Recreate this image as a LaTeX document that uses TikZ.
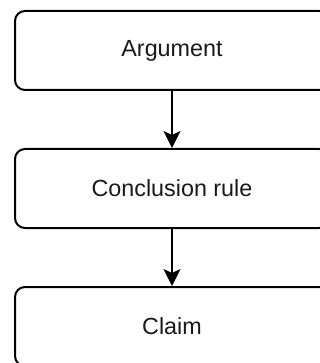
\documentclass[tikz,border=0pt]{standalone}
\usepackage{fontspec}
\setmainfont{Liberation Sans}
\usetikzlibrary{arrows.meta}
\begin{document}
\begin{tikzpicture}[x=0.75pt,y=-0.75pt,
  stepbox/.style={draw=black, line width=1.5pt, rounded corners=7.5pt,
    minimum width=235.5pt, minimum height=59.25pt, inner sep=0pt,
    font=\fontsize{17.5pt}{21pt}\selectfont, text=black!90},
  link/.style={draw=black, line width=1.1pt,
    -{Stealth[length=12.75pt, width=12.75pt, inset=3pt]}}]
  \useasboundingbox (0,0) rectangle (320,363);
  \clip (0,0) rectangle (320,363);
  \node[stepbox] (argument) at (172,50.5) {Argument};
  \node[stepbox] (rule) at (172,188.5) {Conclusion rule};
  \node[stepbox] (claim) at (172,326.5) {Claim};
  \draw[link] (argument) -- (rule);
  \draw[link] (rule) -- (claim);
\end{tikzpicture}
\end{document}
